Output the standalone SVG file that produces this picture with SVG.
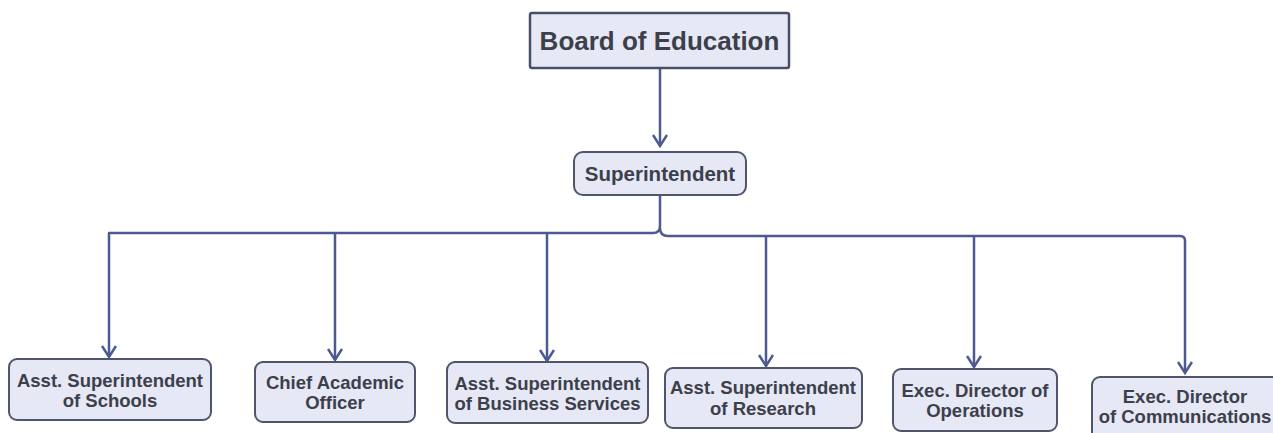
<svg xmlns="http://www.w3.org/2000/svg" width="1273" height="433" viewBox="0 0 1273 433">
<style>
.box{fill:#e6e8f6;stroke:#50556b;stroke-width:2}
.top{fill:#e6e8f6;stroke:#4a4f68;stroke-width:2.5}
text{font-family:"Liberation Sans",Arial,sans-serif;font-weight:bold;fill:#3c404b;text-anchor:middle}
.t{font-size:18.5px}
.conn{fill:none;stroke:#4d5a92;stroke-width:2.5;stroke-linejoin:round}
</style>
<defs>
<marker id="arr" markerWidth="16" markerHeight="16" refX="8" refY="12" orient="0" markerUnits="userSpaceOnUse">
<path d="M1,1 L8,12 L15,1" fill="none" stroke="#4d5a92" stroke-width="2.5"/>
</marker>
</defs>
<rect width="1273" height="433" fill="#ffffff"/>
<g id="connectors">
<path class="conn" d="M660,68 V146" marker-end="url(#arr)"/>
<path class="conn" d="M660,195 V226 Q660,233 653,233 H109 V357" marker-end="url(#arr)"/>
<path class="conn" d="M335,233 V360" marker-end="url(#arr)"/>
<path class="conn" d="M547,233 V361" marker-end="url(#arr)"/>
<path class="conn" d="M660,228 Q660,236 668,236 H1180 Q1185,236 1185,241 V373" marker-end="url(#arr)"/>
<path class="conn" d="M766,236 V366" marker-end="url(#arr)"/>
<path class="conn" d="M974,236 V367" marker-end="url(#arr)"/>
</g>
<g id="board">
<rect class="top" x="530" y="13" width="259" height="55" rx="2"/>
<text x="659.5" y="50" style="font-size:26px">Board of Education</text>
</g>
<g id="superintendent">
<rect class="box" x="574" y="152" width="172" height="43" rx="9"/>
<text x="660" y="181" style="font-size:20.5px">Superintendent</text>
</g>
<g id="asst-schools">
<rect class="box" x="9" y="359" width="202" height="61" rx="8"/>
<text class="t" x="110" y="387">Asst. Superintendent</text>
<text class="t" x="110" y="407">of Schools</text>
</g>
<g id="cao">
<rect class="box" x="255" y="362" width="160" height="60" rx="8"/>
<text class="t" x="335" y="389">Chief Academic</text>
<text class="t" x="335" y="409">Officer</text>
</g>
<g id="asst-business">
<rect class="box" x="447" y="362" width="201" height="61" rx="8"/>
<text class="t" x="547.5" y="390">Asst. Superintendent</text>
<text class="t" x="547.5" y="410">of Business Services</text>
</g>
<g id="asst-research">
<rect class="box" x="665" y="368" width="197" height="60" rx="8"/>
<text class="t" x="763" y="394">Asst. Superintendent</text>
<text class="t" x="763" y="415">of Research</text>
</g>
<g id="exec-operations">
<rect class="box" x="893" y="369" width="164" height="62" rx="8"/>
<text class="t" x="975" y="397">Exec. Director of</text>
<text class="t" x="975" y="417">Operations</text>
</g>
<g id="exec-communications">
<rect class="box" x="1092" y="377" width="190" height="70" rx="8"/>
<text class="t" x="1185" y="403">Exec. Director</text>
<text class="t" x="1185" y="423">of Communications</text>
</g>
</svg>
